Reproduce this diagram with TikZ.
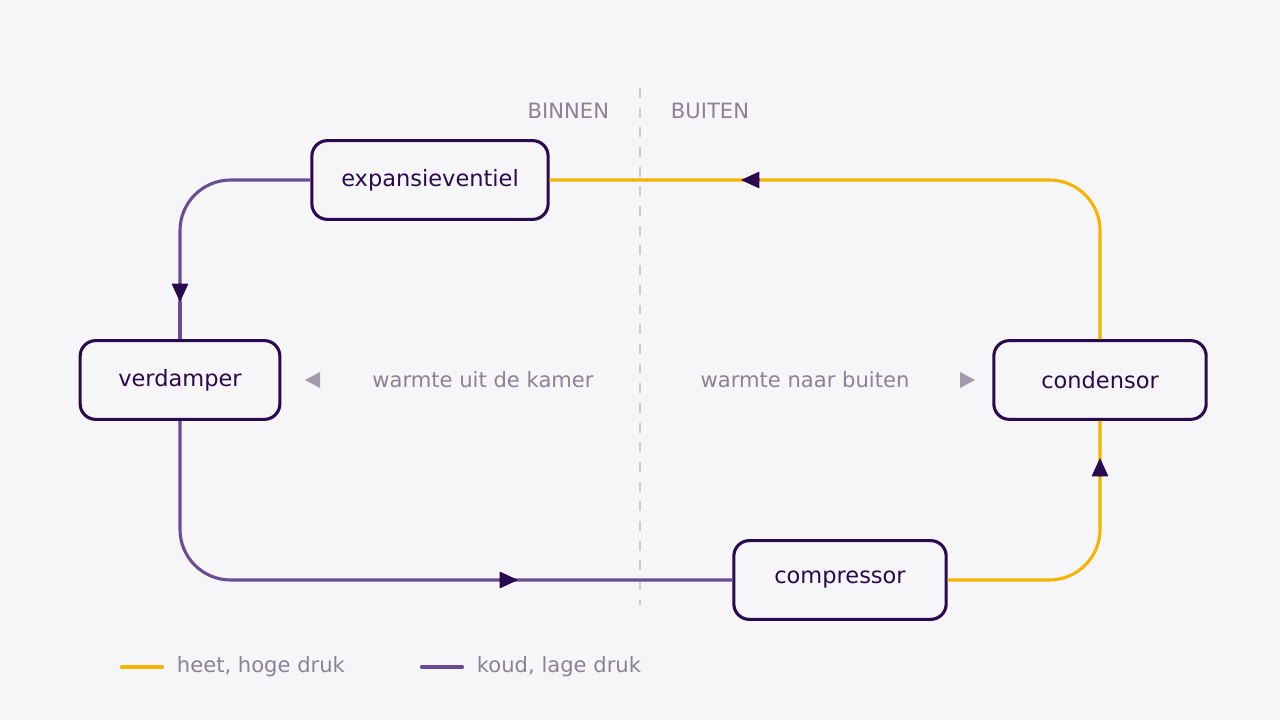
\documentclass[tikz,border=0pt]{standalone}
\usepackage{fontspec}
\setmainfont{DejaVu Sans}
\usetikzlibrary{arrows.meta}
\definecolor{hot}{HTML}{F5B400}
\definecolor{cold}{HTML}{6A4C93}
\definecolor{ink}{HTML}{2A0A4E}
\definecolor{muted}{HTML}{8A8296}
\definecolor{bg}{HTML}{F6F6F8}
\tikzset{
  unit/.style = {draw=ink, line width=2.2pt, fill=bg, rounded corners=11pt,
    minimum height=56pt, inner xsep=12pt, font=\fontsize{16}{18}\selectfont, text=ink},
  hotline/.style = {draw=hot, line width=2.2pt, rounded corners=36pt},
  coldline/.style = {draw=cold, line width=2.2pt, rounded corners=36pt},
  flow/.style = {-{Triangle[length=13pt,width=12pt]}, ink},
  note/.style = {text=muted, font=\fontsize{15}{17}\selectfont},
}
\begin{document}
\begin{tikzpicture}[x=0.025cm,y=-0.025cm]
\fill[bg] (0,0) rectangle (1280,720);
\useasboundingbox (0,0) rectangle (1280,720);

% divider
\draw[black!20, line width=1.8pt, dash pattern=on 7pt off 7pt] (640,88) -- (640,605);
\node[note, anchor=east] (in) at (614,111) {BINNEN};
\node[note, anchor=west] (out) at (666,111) {BUITEN};

% components
\node[unit, minimum width=168pt] (exp) at (430,180) {expansieventiel};
\node[unit, minimum width=142pt] (verd) at (180,380) {verdamper};
\node[unit, minimum width=151pt] (cond) at (1100,380) {condensor};
\node[unit, minimum width=151pt] (comp) at (840,580) {compressor};

% arrow positions
\coordinate (a1) at (180,302);
\coordinate (a2) at (518,580);
\coordinate (a3) at (1100,458);
\coordinate (a4) at (741,180);

% cold side
\draw[coldline] (exp.west) -| (a1);
\draw[coldline] (a1) -- (verd.north);
\draw[coldline] (verd.south) |- (comp.west);
% hot side
\draw[hotline] (comp.east) -| (cond.south);
\draw[hotline] (cond.north) |- (exp.east);

% direction marks
\draw[flow, line width=0pt] (180,290) -- (a1);
\draw[flow, line width=0pt] (505,580) -- (a2);
\draw[flow, line width=0pt] (1100,470) -- (a3);
\draw[flow, line width=0pt] (755,180) -- (a4);

% heat labels
\node[note] (heatin) at (483,380) {warmte uit de kamer};
\node[note] (heatout) at (805,380) {warmte naar buiten};
\fill[muted!80] (305,380) -- (320,372) -- (320,388) -- cycle;
\fill[muted!80] (975,380) -- (960,372) -- (960,388) -- cycle;

% legend
\draw[hot, line width=3pt, line cap=round] (122,667) -- (162,667);
\node[note, anchor=west] (lhot) at (172,667) {heet, hoge druk};
\draw[cold, line width=3pt, line cap=round] (422,667) -- (462,667);
\node[note, anchor=west] (lcold) at (472,667) {koud, lage druk};
\end{tikzpicture}
\end{document}
